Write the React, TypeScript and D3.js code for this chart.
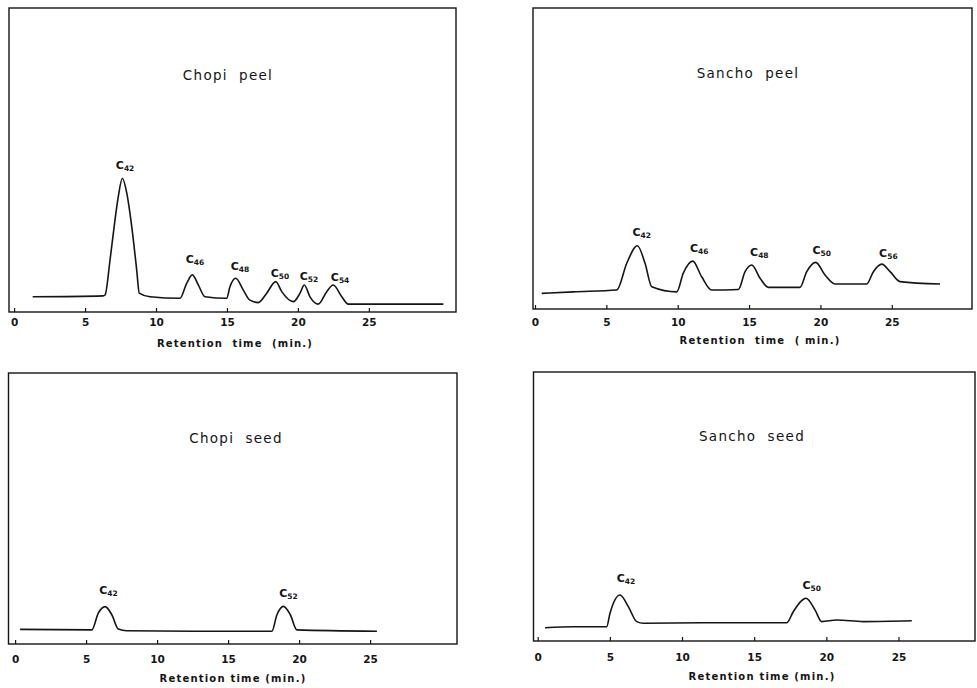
import React, { useEffect, useRef } from 'react';
import * as d3 from 'd3';

// Retention time (min) and detector response (arbitrary units, 0 = baseline axis, 100 = frame top)
const chopiPeelTime = [1.31, 6.27, 6.41, 6.76, 7.11, 7.34, 7.63, 7.94, 8.29, 8.64, 8.82, 9.58, 11.69, 12.16, 12.56, 12.98, 13.45, 14.98, 15.21, 15.62, 16.15, 16.62, 17.21, 17.8, 18.44, 18.86, 19.68, 20.15, 20.45, 20.85, 21.44, 22.03, 22.49, 23.09, 23.55, 30.25];
const chopiPeelSignal = [5.0, 5.3, 5.6, 17.1, 30.3, 37.9, 44.0, 39.1, 28.1, 13.8, 6.2, 5.0, 4.5, 9.4, 12.2, 8.9, 5.0, 4.5, 8.3, 11.1, 7.2, 3.9, 3.1, 6.2, 10.0, 6.7, 3.4, 6.2, 8.9, 5.0, 2.6, 6.7, 8.9, 5.0, 2.6, 2.6];
const chopiPeelPeaks = ['42', '46', '48', '50', '52', '54'];
const chopiPeelPeakTime = [7.82, 12.75, 15.92, 18.74, 20.78, 22.97];
const chopiPeelPeakLevel = [49.0, 17.8, 15.5, 13.2, 12.5, 12.2];

const sanchoPeelTime = [0.47, 2.68, 5.73, 6.43, 7.17, 7.71, 8.18, 9.93, 10.39, 11.05, 11.68, 12.38, 14.25, 14.72, 15.19, 15.77, 16.35, 18.57, 19.04, 19.67, 20.32, 21.02, 23.24, 23.71, 24.3, 24.88, 25.58, 28.38];
const sanchoPeelSignal = [5.2, 5.7, 6.3, 15.2, 21.0, 15.2, 7.4, 5.7, 11.9, 15.9, 10.7, 6.3, 6.5, 12.4, 14.6, 10.2, 7.2, 7.2, 12.4, 15.5, 11.3, 8.3, 8.3, 12.4, 14.9, 12.4, 9.1, 8.3];
const sanchoPeelPeaks = ['42', '46', '48', '50', '56'];
const sanchoPeelPeakTime = [7.48, 11.51, 15.72, 20.09, 24.76];
const sanchoPeelPeakLevel = [26.2, 20.7, 19.4, 20.2, 19.0];

const chopiSeedTime = [0.35, 5.4, 5.86, 6.34, 6.81, 7.27, 7.86, 12.56, 18.08, 18.44, 18.9, 19.38, 19.85, 25.48];
const chopiSeedSignal = [5.4, 5.2, 11.4, 13.8, 10.8, 5.5, 4.9, 4.7, 4.7, 10.8, 13.9, 10.8, 5.2, 4.7];
const chopiSeedPeaks = ['42', '52'];
const chopiSeedPeakTime = [6.57, 19.25];
const chopiSeedPeakLevel = [20.6, 19.3];

const sanchoSeedTime = [0.51, 2.47, 4.78, 5.01, 5.7, 6.28, 6.86, 7.32, 11.48, 17.26, 17.71, 18.59, 19.22, 19.68, 20.72, 22.56, 25.92];
const sanchoSeedSignal = [4.9, 5.3, 5.3, 10.3, 17.1, 12.8, 7.2, 6.6, 6.8, 6.8, 10.9, 15.9, 11.5, 7.2, 7.8, 7.2, 7.5];
const sanchoSeedPeaks = ['42', '50'];
const sanchoSeedPeakTime = [6.12, 18.99];
const sanchoSeedPeakLevel = [23.9, 21.4];

const tickValues = [0, 5, 10, 15, 20, 25];

const panels = [
  {
    title: 'Chopi  peel', xLabel: 'Retention  time  (min.)',
    time: chopiPeelTime, signal: chopiPeelSignal,
    peaks: chopiPeelPeaks, peakTime: chopiPeelPeakTime, peakLevel: chopiPeelPeakLevel,
    box: { left: 9, top: 8, right: 456, bottom: 312 }, zeroX: 14.1, maxT: 31.14,
    titleY: 75, titleX: 228, tickY: 322, labelX: 235, labelY: 343,
  },
  {
    title: 'Sancho  peel', xLabel: 'Retention  time  ( min.)',
    time: sanchoPeelTime, signal: sanchoPeelSignal,
    peaks: sanchoPeelPeaks, peakTime: sanchoPeelPeakTime, peakLevel: sanchoPeelPeakLevel,
    box: { left: 533, top: 8, right: 972, bottom: 309 }, zeroX: 535, maxT: 30.62,
    titleY: 73, titleX: 748, tickY: 322, labelX: 760, labelY: 340,
  },
  {
    title: 'Chopi  seed', xLabel: 'Retention time (min.)',
    time: chopiSeedTime, signal: chopiSeedSignal,
    peaks: chopiSeedPeaks, peakTime: chopiSeedPeakTime, peakLevel: chopiSeedPeakLevel,
    box: { left: 8.5, top: 373, right: 457, bottom: 644 }, zeroX: 15.1, maxT: 31.12,
    titleY: 438, titleX: 236, tickY: 659, labelX: 233, labelY: 678,
  },
  {
    title: 'Sancho  seed', xLabel: 'Retention time (min.)',
    time: sanchoSeedTime, signal: sanchoSeedSignal,
    peaks: sanchoSeedPeaks, peakTime: sanchoSeedPeakTime, peakLevel: sanchoSeedPeakLevel,
    box: { left: 533.5, top: 372, right: 975, bottom: 641 }, zeroX: 537.7, maxT: 30.3,
    titleY: 436, titleX: 752, tickY: 657, labelX: 762, labelY: 676,
  },
];

const INK = '#151515';
const FONT = '"DejaVu Sans", Verdana, sans-serif';

const App = () => {
  const chartRef = useRef<SVGSVGElement>(null);

  useEffect(() => {
    if (!chartRef.current) return;
    const svg = d3.select(chartRef.current);
    svg.selectAll('*').remove();

    panels.forEach(p => {
      const { left, top, right, bottom } = p.box;
      const x = d3.scaleLinear().domain([0, p.maxT]).range([p.zeroX, right]);
      const y = d3.scaleLinear().domain([0, 100]).range([bottom, top]);
      const g = svg.append('g');

      // frame
      g.append('rect')
        .attr('x', left).attr('y', top)
        .attr('width', right - left).attr('height', bottom - top)
        .attr('fill', 'none').attr('stroke', INK).attr('stroke-width', 1.4);

      // x axis, inward ticks
      const axis = g.append('g')
        .attr('transform', `translate(0,${bottom})`)
        .call(d3.axisBottom(x).tickValues(tickValues).tickSize(-4).tickPadding(0).tickFormat(d3.format('d')));
      axis.select('.domain').remove();
      axis.selectAll('line').attr('stroke', INK).attr('stroke-width', 1.2);
      axis.selectAll('text')
        .attr('y', p.tickY - bottom).attr('dy', '0.35em')
        .attr('fill', INK).attr('font-family', FONT).attr('font-size', 10.5).attr('font-weight', 'bold');

      // trace
      const pts = p.time.map((t, i) => [t, p.signal[i]] as [number, number]);
      const line = d3.line<[number, number]>()
        .x(d => x(d[0]))
        .y(d => y(d[1]))
        .curve(d3.curveMonotoneX);
      g.append('path')
        .datum(pts)
        .attr('fill', 'none').attr('stroke', INK).attr('stroke-width', 1.6)
        .attr('stroke-linejoin', 'round')
        .attr('d', line);

      // peak labels
      p.peaks.forEach((n, i) => {
        const t = g.append('text')
          .attr('x', x(p.peakTime[i])).attr('y', y(p.peakLevel[i])).attr('dy', '0.35em')
          .attr('text-anchor', 'middle').attr('fill', INK)
          .attr('font-family', FONT).attr('font-weight', 'bold');
        t.append('tspan').attr('font-size', 11).text('C');
        t.append('tspan').attr('font-size', 7.5).attr('dy', 2).text(n);
      });

      // title
      g.append('text')
        .attr('x', p.titleX).attr('y', p.titleY).attr('dy', '0.35em')
        .attr('text-anchor', 'middle').attr('fill', INK)
        .attr('font-family', FONT).attr('font-size', 13.5).attr('letter-spacing', 1.3)
        .style('white-space', 'pre')
        .text(p.title);

      // x label
      g.append('text')
        .attr('x', p.labelX).attr('y', p.labelY).attr('dy', '0.35em')
        .attr('text-anchor', 'middle').attr('fill', INK)
        .attr('font-family', FONT).attr('font-size', 10).attr('font-weight', 'bold').attr('letter-spacing', 1.2)
        .style('white-space', 'pre')
        .text(p.xLabel);
    });
  }, []);

  return (
    <svg ref={chartRef} width={977} height={688}
      style={{ position: 'absolute', left: 0, top: 0, background: '#fff' }} />
  );
};

export default App;
